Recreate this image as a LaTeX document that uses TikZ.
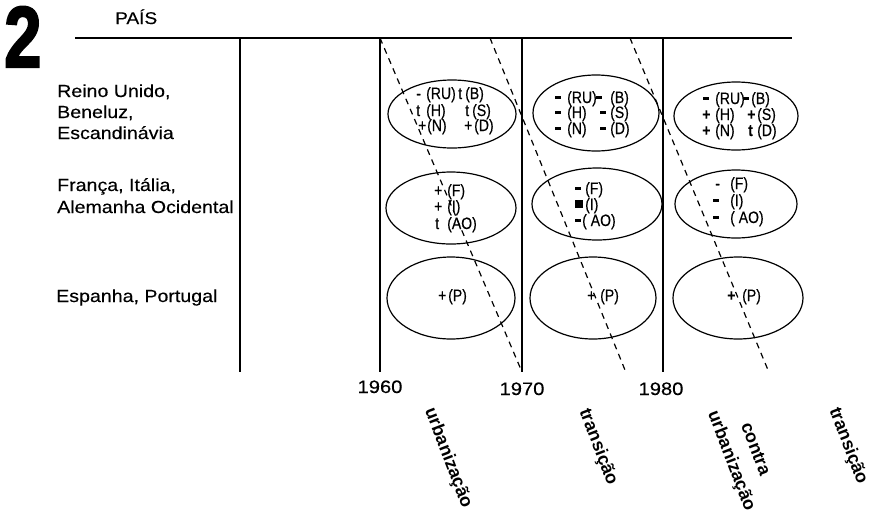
\documentclass[tikz,border=0pt]{standalone}
\usepackage{fontspec}
\usepackage{graphicx}
\setmainfont{Liberation Sans}
\newfontfamily\widefont[FakeStretch=1.12,FakeBold=0.3]{Liberation Sans}
\newfontfamily\cellfont[FakeStretch=0.85,FakeBold=0.3]{Liberation Sans}
\newfontfamily\numfont[FakeBold=2.5]{Liberation Sans Bold}
\usetikzlibrary{shapes.geometric}
\newcommand{\thm}{\rule[3.8pt]{5.5pt}{2.8pt}}
\newcommand{\tsq}{\rule[2.5pt]{8pt}{7.5pt}}
\newcommand{\tpl}{\textbf{+}}
\newcommand{\ent}[6]{\node[cell] (#1s) at (#2,#6) {#3}; \node[cell] (#1l) at (#4,#6) {#5};}
\begin{document}
\begin{tikzpicture}[x=1pt,y=-1pt,
 rowlab/.style={anchor=base west, inner sep=0pt, font=\widefont\fontsize{17.5}{20}\selectfont},
 cell/.style={anchor=base west, inner sep=0pt, font=\cellfont\fontsize{16.5}{19}\selectfont},
 oval/.style={draw, ellipse, line width=1.2pt, inner sep=0pt},
 gridline/.style={line width=1.1pt},
 trend/.style={line width=1.2pt, dash pattern=on 6pt off 5pt},
 year/.style={anchor=base, inner sep=0pt, font=\widefont\fontsize{18}{20}\selectfont},
 phase/.style={rotate=-69, inner sep=0pt, font=\bfseries\fontsize{18}{20}\selectfont}]
\useasboundingbox (0,0) rectangle (879,515);

% title
\node[anchor=base west, inner sep=0pt] (num) at (4,67) {\scalebox{0.8}[1.03]{\numfont\fontsize{84}{84}\selectfont 2}};
\node[anchor=base west, inner sep=0pt, font=\widefont\fontsize{17}{19}\selectfont] (pais) at (115,24) {PAÍS};

% frame
\coordinate (hl) at (75,38); \coordinate (hr) at (792,38);
\coordinate (v0t) at (240,38); \coordinate (v0b) at (240,372);
\coordinate (v1t) at (380,38); \coordinate (v1b) at (380,372);
\coordinate (v2t) at (522,38); \coordinate (v2b) at (522,372);
\coordinate (v3t) at (663,38); \coordinate (v3b) at (663,372);
\draw[gridline] (hl) -- (hr);
\draw[gridline] (v0t) -- (v0b);
\draw[gridline] (v1t) -- (v1b);
\draw[gridline] (v2t) -- (v2b);
\draw[gridline] (v3t) -- (v3b);

% row labels
\node[rowlab] (r1a) at (57,97) {Reino Unido,};
\node[rowlab] (r1b) at (57,118) {Beneluz,};
\node[rowlab] (r1c) at (57,139) {Escandinávia};
\node[rowlab] (r2a) at (57,191) {França, Itália,};
\node[rowlab] (r2b) at (57,213) {Alemanha Ocidental};
\node[rowlab] (r3a) at (56,302) {Espanha, Portugal};

% ellipses
\node[oval, minimum width=128pt, minimum height=68pt] (e11) at (452,114) {};
\node[oval, minimum width=126pt, minimum height=76pt] (e12) at (596,113) {};
\node[oval, minimum width=124pt, minimum height=68pt] (e13) at (736,116) {};
\node[oval, minimum width=130pt, minimum height=72pt] (e21) at (451,208) {};
\node[oval, minimum width=130pt, minimum height=72pt] (e22) at (597,204) {};
\node[oval, minimum width=122pt, minimum height=68pt] (e23) at (736,204) {};
\node[oval, minimum width=128pt, minimum height=82pt] (e31) at (451,298) {};
\node[oval, minimum width=126pt, minimum height=82pt] (e32) at (593,298) {};
\node[oval, minimum width=130pt, minimum height=82pt] (e33) at (738,298) {};

% entries row 1
\ent{a1}{416}{-}{426}{(RU)}{99}
\ent{a2}{458}{t}{465}{(B)}{99}
\ent{a3}{416}{t}{426}{(H)}{116}
\ent{a4}{465}{t}{472}{(S)}{116}
\ent{a5}{418}{+}{427}{(N)}{131}
\ent{a6}{464}{+}{474}{(D)}{131}

\ent{b1}{555}{\thm}{567}{(RU)}{103}
\ent{b2}{596}{\thm}{610}{(B)}{103}
\ent{b3}{555}{\thm}{567}{(H)}{118}
\ent{b4}{600}{\thm}{610}{(S)}{118}
\ent{b5}{555}{\thm}{567}{(N)}{134}
\ent{b6}{600}{\thm}{610}{(D)}{134}

\ent{c1}{703}{\thm}{715}{(RU)}{104}
\ent{c2}{743}{\thm}{751}{(B)}{104}
\ent{c3}{702}{\tpl}{715}{(H)}{120}
\ent{c4}{747}{\tpl}{757}{(S)}{120}
\ent{c5}{702}{\tpl}{715}{(N)}{136}
\ent{c6}{748}{\textbf{t}}{757}{(D)}{136}

% entries row 2
\ent{d1}{434}{+}{447}{(F)}{196}
\ent{d2}{434}{+}{447}{(I)}{212}
\ent{d3}{435}{t}{447}{(AO)}{229}

\ent{f1}{575}{\thm}{585}{(F)}{194}
\ent{f2}{575}{\tsq}{585}{(I)}{210}
\ent{f3}{575}{\thm}{582}{( AO)}{226}

\ent{g1}{715}{-}{730}{(F)}{189}
\ent{g2}{713}{\thm}{730}{(I)}{206}
\ent{g3}{713}{\thm}{730}{( AO)}{223}

% entries row 3
\ent{h1}{438}{+}{448}{(P)}{301}
\ent{h2}{587}{+}{600}{(P)}{301}
\ent{h3}{727}{\tpl}{742}{(P)}{301}

% trend lines
\coordinate (d2t) at (490,38); \coordinate (d2b) at (625,370);
\coordinate (d3t) at (630,38); \coordinate (d3b) at (768,370);
\draw[trend] (v1t) -- (v2b);
\draw[trend] (d2t) -- (d2b);
\draw[trend] (d3t) -- (d3b);

% years
\node[year] (y60) at (380,393) {1960};
\node[year] (y70) at (522,395) {1970};
\node[year] (y80) at (661,395) {1980};

% phases
\node[phase] (p1) at (448,458) {urbanização};
\node[phase] (p2) at (598,447) {transição};
\node[phase] (p3) at (756,449) {contra};
\node[phase] (p4) at (731,461) {urbanização};
\node[phase] (p5) at (848,446) {transição};
\end{tikzpicture}
\end{document}
